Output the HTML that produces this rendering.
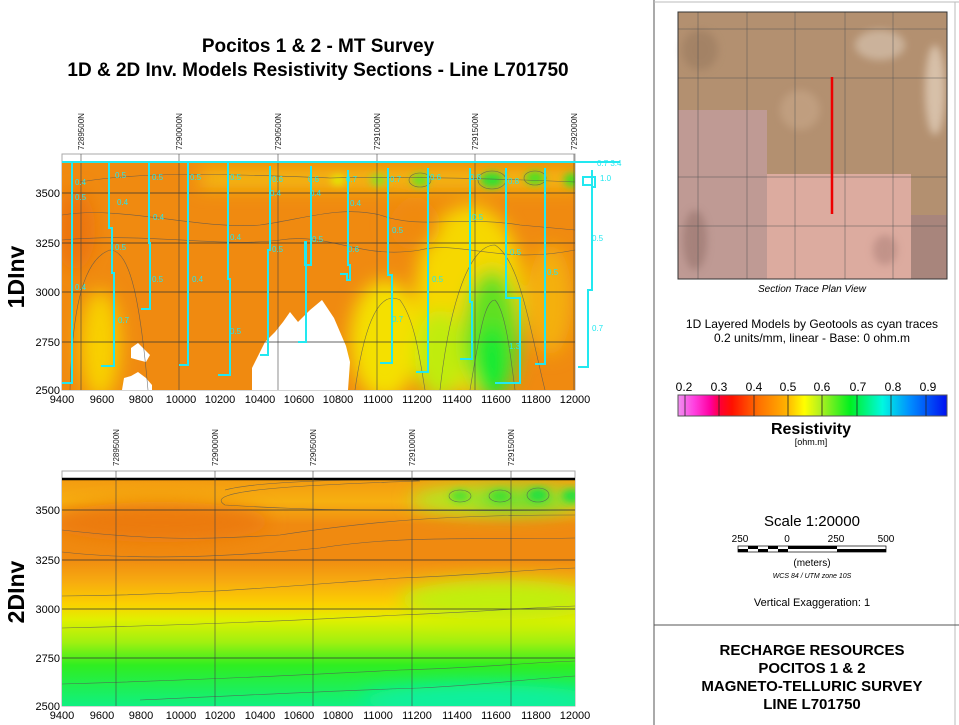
<!DOCTYPE html>
<html><head><meta charset="utf-8"><style>
html,body{margin:0;padding:0;background:#fff;}
body{width:959px;height:725px;overflow:hidden;position:relative;font-family:"Liberation Sans",sans-serif;}
</style></head><body>
<svg width="959" height="725" viewBox="0 0 959 725" xmlns="http://www.w3.org/2000/svg" style="position:absolute;left:0;top:0" font-family="Liberation Sans, sans-serif">
<defs>
<filter id="bl" x="-30%" y="-30%" width="160%" height="160%"><feGaussianBlur stdDeviation="9"/></filter>
<filter id="bl2" x="-30%" y="-30%" width="160%" height="160%"><feGaussianBlur stdDeviation="4"/></filter>
<clipPath id="c1"><rect x="62" y="163" width="513" height="227"/></clipPath>
<clipPath id="c2"><rect x="62" y="479" width="513" height="227"/></clipPath>
<linearGradient id="g2" x1="0" y1="0" x2="0" y2="1">
<stop offset="0" stop-color="#f39a10"/><stop offset="0.1" stop-color="#f7b010"/>
<stop offset="0.2" stop-color="#f08a10"/><stop offset="0.35" stop-color="#f08a10"/>
<stop offset="0.45" stop-color="#f7aa10"/><stop offset="0.55" stop-color="#fbd000"/>
<stop offset="0.62" stop-color="#e0f000"/><stop offset="0.72" stop-color="#a0f010"/>
<stop offset="0.82" stop-color="#30ee20"/><stop offset="1" stop-color="#10f080"/>
</linearGradient>
<linearGradient id="cb" x1="0" y1="0" x2="1" y2="0">
<stop offset="0" stop-color="#f090f0"/><stop offset="0.06" stop-color="#ff40e0"/>
<stop offset="0.12" stop-color="#ff00a0"/><stop offset="0.16" stop-color="#ff0030"/>
<stop offset="0.2" stop-color="#ff1000"/><stop offset="0.3" stop-color="#ff7000"/>
<stop offset="0.4" stop-color="#ffb000"/><stop offset="0.47" stop-color="#ffff00"/>
<stop offset="0.53" stop-color="#b0f020"/><stop offset="0.64" stop-color="#00f020"/>
<stop offset="0.76" stop-color="#00f8e0"/><stop offset="0.86" stop-color="#0090ff"/>
<stop offset="1" stop-color="#0010f0"/>
</linearGradient>
</defs>

<text x="318" y="52" text-anchor="middle" font-size="19" font-weight="bold">Pocitos 1 &amp; 2 - MT Survey</text>
<text x="318" y="76" text-anchor="middle" font-size="19" font-weight="bold">1D &amp; 2D Inv. Models Resistivity Sections - Line L701750</text>

<rect x="62" y="154" width="513" height="236" fill="#fff" stroke="#aaa"/>
<g clip-path="url(#c1)">
<rect x="62" y="163" width="513" height="227" fill="#f08a10"/>
<g filter="url(#bl)">
<ellipse cx="100" cy="345" rx="20" ry="55" fill="#f8d000"/>
<ellipse cx="385" cy="340" rx="35" ry="60" fill="#f4e000"/>
<ellipse cx="470" cy="300" rx="55" ry="95" fill="#f6d800"/>
<ellipse cx="492" cy="335" rx="28" ry="65" fill="#60e020"/>
<ellipse cx="492" cy="362" rx="16" ry="38" fill="#10ea30"/>
<ellipse cx="440" cy="355" rx="25" ry="45" fill="#c0ec10"/>
<ellipse cx="550" cy="300" rx="22" ry="55" fill="#f4b010"/>
<rect x="200" y="170" width="380" height="18" fill="#f4c010"/>
<ellipse cx="75" cy="230" rx="20" ry="40" fill="#ec7410"/>
<ellipse cx="415" cy="225" rx="25" ry="25" fill="#f08a10"/>
</g>
<g filter="url(#bl2)">
<ellipse cx="378" cy="180" rx="8" ry="6" fill="#90e020"/>
<ellipse cx="420" cy="180" rx="9" ry="7" fill="#70e020"/>
<ellipse cx="492" cy="180" rx="12" ry="8" fill="#30e030"/>
<ellipse cx="535" cy="178" rx="10" ry="7" fill="#50e020"/>
<ellipse cx="572" cy="180" rx="8" ry="7" fill="#40e020"/>
<ellipse cx="338" cy="180" rx="7" ry="5" fill="#e0f000"/>
</g>
<polygon fill="#fff" points="252,390 252,368 258,356 265,342 275,332 283,322 290,312 298,322 310,310 322,300 334,318 340,332 346,346 350,362 348,390"/>
<polygon fill="#fff" points="131,348 138,343 145,350 150,355 146,362 138,360 131,358"/>
<polygon fill="#fff" points="122,390 124,378 131,376 138,372 146,378 152,385 152,390"/>
<g stroke="#555" stroke-width="0.6" fill="none" opacity="0.8">
<path d="M70,390 C72,320 80,260 110,250 C130,250 140,300 148,390"/>
<path d="M355,390 C365,320 380,290 400,300 C415,320 420,360 425,390"/>
<path d="M440,390 C450,300 470,245 495,245 C520,260 530,330 545,390"/>
<path d="M470,390 C480,330 485,300 495,300 C505,310 510,350 515,390"/>
<path d="M62,215 C120,205 200,230 260,225 C300,220 340,205 380,215 C420,230 460,215 520,225 L575,230"/>
<path d="M62,240 C150,232 220,248 280,240 C330,232 360,260 420,250 C460,240 500,265 575,250"/>
<path d="M80,182 C150,170 250,175 330,178 C400,176 480,178 575,182"/>
<ellipse cx="492" cy="180" rx="14" ry="9"/><ellipse cx="420" cy="180" rx="11" ry="7"/><ellipse cx="535" cy="178" rx="11" ry="7"/>
</g>
</g>
<g stroke="#333" stroke-width="0.8">
<line x1="62" y1="193" x2="575" y2="193"/><line x1="62" y1="243" x2="575" y2="243"/>
<line x1="62" y1="292" x2="575" y2="292"/><line x1="62" y1="342" x2="575" y2="342"/>
</g>
<g stroke="#444" stroke-width="0.6">
<line x1="81" y1="154" x2="81" y2="390"/><line x1="179" y1="154" x2="179" y2="390"/>
<line x1="278" y1="154" x2="278" y2="390"/><line x1="377" y1="154" x2="377" y2="390"/>
<line x1="475" y1="154" x2="475" y2="390"/><line x1="574" y1="154" x2="574" y2="390"/>
</g>
<line x1="62" y1="162" x2="575" y2="162" stroke="#000" stroke-width="2" stroke-dasharray="14,5"/>
<line x1="62" y1="162" x2="620" y2="162" stroke="#22e8f0" stroke-width="2"/>
<g stroke="#22e8f0" stroke-width="2" fill="none">
<path d="M72,162 V383 H62"/>
<path d="M109,162 V228 H112 V273 H114 V366 H101"/>
<path d="M149,162 V243 H150 V309 H141"/>
<path d="M188,162 V365 H179"/>
<path d="M228,162 V279 H230 V375 H218"/>
<path d="M270,166 V250 H268 V355 H260"/>
<path d="M311,166 V265 H305 V242 H306 V342 H298"/>
<path d="M348,170 V265 H350 V280 H347 V274 H340"/>
<path d="M388,168 V275 H392 V363 H380"/>
<path d="M428,168 V372 H416"/>
<path d="M470,168 V302 H472 V359 H460"/>
<path d="M506,168 V298 H520 V383 H495"/>
<path d="M545,168 V364 H535"/>
<path d="M592,170 V185 H583 V177 H595 V187 H592 V290 H588 V367 H578"/>
</g>
<g fill="#22e8f0" font-size="8">
<text x="75" y="185">0.4</text><text x="75" y="200">0.5</text><text x="75" y="290">0.4</text>
<text x="115" y="178">0.5</text><text x="117" y="205">0.4</text><text x="115" y="250">0.5</text><text x="118" y="323">0.7</text>
<text x="152" y="180">0.5</text><text x="153" y="220">0.4</text><text x="152" y="282">0.5</text>
<text x="190" y="180">0.5</text><text x="230" y="180">0.5</text><text x="230" y="240">0.4</text><text x="230" y="334">0.5</text>
<text x="192" y="282">0.4</text><text x="272" y="182">0.6</text><text x="272" y="252">0.5</text>
<text x="308" y="182">0.6</text><text x="312" y="242">0.5</text><text x="346" y="182">0.7</text><text x="348" y="252">0.6</text>
<text x="390" y="182">0.7</text><text x="392" y="233">0.5</text><text x="392" y="322">0.7</text>
<text x="430" y="180">0.6</text><text x="432" y="282">0.5</text><text x="470" y="180">0.8</text><text x="472" y="220">0.5</text>
<text x="508" y="184">0.8</text><text x="510" y="255">0.5</text><text x="547" y="275">0.5</text><text x="509" y="349">1.3</text>
<text x="600" y="181">1.0</text><text x="592" y="241">0.5</text><text x="592" y="331">0.7</text><text x="597" y="166">0.7 3.4</text>
<text x="350" y="206">0.4</text><text x="270" y="196">0.4</text><text x="310" y="196">0.4</text>
</g>
<g font-size="11" text-anchor="end">
<text x="60" y="197">3500</text><text x="60" y="247">3250</text><text x="60" y="296">3000</text>
<text x="60" y="346">2750</text><text x="60" y="394">2500</text>
</g>
<g font-size="11" text-anchor="middle">
<text x="62" y="403">9400</text><text x="102" y="403">9600</text><text x="141" y="403">9800</text>
<text x="181" y="403">10000</text><text x="220" y="403">10200</text><text x="260" y="403">10400</text>
<text x="299" y="403">10600</text><text x="338" y="403">10800</text><text x="378" y="403">11000</text>
<text x="417" y="403">11200</text><text x="457" y="403">11400</text><text x="496" y="403">11600</text>
<text x="536" y="403">11800</text><text x="575" y="403">12000</text>
</g>
<g font-size="8" fill="#222">
<text transform="translate(84,150) rotate(-90)">7289500N</text>
<text transform="translate(182,150) rotate(-90)">7290000N</text>
<text transform="translate(281,150) rotate(-90)">7290500N</text>
<text transform="translate(380,150) rotate(-90)">7291000N</text>
<text transform="translate(478,150) rotate(-90)">7291500N</text>
<text transform="translate(577,150) rotate(-90)">7292000N</text>
</g>
<text transform="translate(24,277) rotate(-90)" text-anchor="middle" font-size="23" font-weight="bold">1DInv</text>

<rect x="62" y="471" width="513" height="235" fill="#fff" stroke="#aaa"/>
<g clip-path="url(#c2)">
<rect x="62" y="479" width="513" height="227" fill="url(#g2)"/>
<g filter="url(#bl)">
<ellipse cx="160" cy="522" rx="110" ry="20" fill="#ec7a10"/>
<ellipse cx="500" cy="500" rx="90" ry="15" fill="#b0e820"/>
<ellipse cx="520" cy="500" rx="50" ry="10" fill="#60e030"/>
<ellipse cx="480" cy="700" rx="120" ry="15" fill="#10f0a0"/>
<ellipse cx="500" cy="600" rx="100" ry="20" fill="#c0f010"/>
</g>
<g filter="url(#bl2)">
<ellipse cx="460" cy="496" rx="10" ry="6" fill="#50e030"/><ellipse cx="500" cy="496" rx="10" ry="6" fill="#40e030"/>
<ellipse cx="538" cy="495" rx="10" ry="7" fill="#20e040"/><ellipse cx="572" cy="496" rx="10" ry="7" fill="#20e040"/>
</g>
<g stroke="#555" stroke-width="0.6" fill="none" opacity="0.8">
<path d="M62,530 C150,540 200,540 280,535 C380,520 450,515 575,515"/>
<path d="M62,552 C150,562 250,555 320,548 C400,535 480,540 575,538"/>
<path d="M62,596 C200,595 300,585 400,578 C480,575 520,570 575,568"/>
<path d="M62,628 C200,625 300,620 400,615 C480,612 520,608 575,606"/>
<path d="M62,684 C200,680 300,675 400,670 C480,668 520,663 575,661"/>
<path d="M140,700 C250,695 350,690 420,688 C480,685 520,680 575,676"/>
<path d="M225,490 C260,480 400,478 420,481 C300,485 200,490 225,505 C300,510 400,512 575,510"/>
<ellipse cx="460" cy="496" rx="11" ry="6"/><ellipse cx="500" cy="496" rx="11" ry="6"/><ellipse cx="538" cy="495" rx="11" ry="7"/>
</g>
</g>
<line x1="62" y1="479" x2="575" y2="479" stroke="#000" stroke-width="2.5"/>
<g stroke="#333" stroke-width="0.8">
<line x1="62" y1="510" x2="575" y2="510"/><line x1="62" y1="560" x2="575" y2="560"/>
<line x1="62" y1="609" x2="575" y2="609"/><line x1="62" y1="658" x2="575" y2="658"/>
</g>
<g stroke="#444" stroke-width="0.6">
<line x1="116" y1="471" x2="116" y2="706"/><line x1="215" y1="471" x2="215" y2="706"/>
<line x1="313" y1="471" x2="313" y2="706"/><line x1="412" y1="471" x2="412" y2="706"/>
<line x1="511" y1="471" x2="511" y2="706"/>
</g>
<g font-size="11" text-anchor="end">
<text x="60" y="514">3500</text><text x="60" y="564">3250</text><text x="60" y="613">3000</text>
<text x="60" y="662">2750</text><text x="60" y="710">2500</text>
</g>
<g font-size="11" text-anchor="middle">
<text x="62" y="719">9400</text><text x="102" y="719">9600</text><text x="141" y="719">9800</text>
<text x="181" y="719">10000</text><text x="220" y="719">10200</text><text x="260" y="719">10400</text>
<text x="299" y="719">10600</text><text x="338" y="719">10800</text><text x="378" y="719">11000</text>
<text x="417" y="719">11200</text><text x="457" y="719">11400</text><text x="496" y="719">11600</text>
<text x="536" y="719">11800</text><text x="575" y="719">12000</text>
</g>
<g font-size="8" fill="#222">
<text transform="translate(119,466) rotate(-90)">7289500N</text>
<text transform="translate(218,466) rotate(-90)">7290000N</text>
<text transform="translate(316,466) rotate(-90)">7290500N</text>
<text transform="translate(415,466) rotate(-90)">7291000N</text>
<text transform="translate(514,466) rotate(-90)">7291500N</text>
</g>
<text transform="translate(24,592) rotate(-90)" text-anchor="middle" font-size="23" font-weight="bold">2DInv</text>

<line x1="654" y1="0" x2="654" y2="725" stroke="#555" stroke-width="1"/>
<line x1="654" y1="2" x2="959" y2="2" stroke="#bbb"/>
<line x1="955" y1="2" x2="955" y2="725" stroke="#bbb"/>
<line x1="654" y1="625" x2="959" y2="625" stroke="#555"/>
<rect x="678" y="12" width="269" height="267" fill="#b39070"/>
<g filter="url(#bl2)" opacity="0.6">
<ellipse cx="880" cy="45" rx="25" ry="15" fill="#dccab8"/>
<ellipse cx="935" cy="90" rx="10" ry="45" fill="#efe0cf"/>
<ellipse cx="800" cy="110" rx="20" ry="20" fill="#c9a88a"/>
<ellipse cx="700" cy="50" rx="18" ry="20" fill="#9a7a5e"/>
</g>
<rect x="678" y="110" width="89" height="169" fill="#bf9a94"/>
<rect x="767" y="174" width="144" height="105" fill="#dcab9f"/>
<rect x="911" y="215" width="36" height="64" fill="#a8857c"/>
<g filter="url(#bl2)" opacity="0.5">
<ellipse cx="695" cy="240" rx="12" ry="30" fill="#8e6a64"/>
<ellipse cx="885" cy="250" rx="12" ry="15" fill="#a87c74"/>
</g>
<g stroke="#555" stroke-width="0.5">
<line x1="698" y1="12" x2="698" y2="279"/><line x1="747" y1="12" x2="747" y2="279"/>
<line x1="795" y1="12" x2="795" y2="279"/><line x1="845" y1="12" x2="845" y2="279"/>
<line x1="893" y1="12" x2="893" y2="279"/>
<line x1="678" y1="29" x2="947" y2="29"/><line x1="678" y1="78" x2="947" y2="78"/>
<line x1="678" y1="177" x2="947" y2="177"/><line x1="678" y1="226" x2="947" y2="226"/>
</g>
<rect x="678" y="12" width="269" height="267" fill="none" stroke="#333"/>
<line x1="832" y1="77" x2="832" y2="214" stroke="#ee0000" stroke-width="2.5"/>
<text x="812" y="292" text-anchor="middle" font-size="10" font-style="italic">Section Trace Plan View</text>
<text x="812" y="328" text-anchor="middle" font-size="12">1D Layered Models by Geotools as cyan traces</text>
<text x="812" y="342" text-anchor="middle" font-size="12">0.2 units/mm, linear - Base: 0 ohm.m</text>
<rect x="678" y="395" width="269" height="21" fill="url(#cb)" stroke="#555"/>
<g stroke="#222" stroke-width="0.8">
<line x1="685" y1="395" x2="685" y2="416"/><line x1="719" y1="395" x2="719" y2="416"/>
<line x1="754" y1="395" x2="754" y2="416"/><line x1="788" y1="395" x2="788" y2="416"/>
<line x1="822" y1="395" x2="822" y2="416"/><line x1="857" y1="395" x2="857" y2="416"/>
<line x1="891" y1="395" x2="891" y2="416"/><line x1="926" y1="395" x2="926" y2="416"/>
</g>
<g font-size="12" text-anchor="middle">
<text x="684" y="391">0.2</text><text x="719" y="391">0.3</text><text x="754" y="391">0.4</text>
<text x="788" y="391">0.5</text><text x="822" y="391">0.6</text><text x="858" y="391">0.7</text>
<text x="893" y="391">0.8</text><text x="928" y="391">0.9</text>
</g>
<text x="811" y="434" text-anchor="middle" font-size="16" font-weight="bold">Resistivity</text>
<text x="811" y="445" text-anchor="middle" font-size="9">[ohm.m]</text>
<text x="812" y="526" text-anchor="middle" font-size="15">Scale 1:20000</text>
<g font-size="10" text-anchor="middle">
<text x="740" y="542">250</text><text x="787" y="542">0</text><text x="836" y="542">250</text><text x="886" y="542">500</text>
</g>
<rect x="738" y="546" width="148" height="6" fill="#fff" stroke="#000" stroke-width="0.7"/>
<g fill="#000">
<rect x="738" y="549" width="10" height="3"/><rect x="748" y="546" width="10" height="3"/>
<rect x="758" y="549" width="10" height="3"/><rect x="768" y="546" width="10" height="3"/>
<rect x="778" y="549" width="10" height="3"/><rect x="788" y="546" width="49" height="3"/>
<rect x="837" y="549" width="49" height="3"/>
</g>
<text x="812" y="566" text-anchor="middle" font-size="10">(meters)</text>
<text x="812" y="578" text-anchor="middle" font-size="7" font-style="italic">WCS 84 / UTM zone 10S</text>
<text x="812" y="606" text-anchor="middle" font-size="11">Vertical Exaggeration: 1</text>
<g font-size="15" font-weight="bold" text-anchor="middle">
<text x="812" y="655">RECHARGE RESOURCES</text>
<text x="812" y="673">POCITOS 1 &amp; 2</text>
<text x="812" y="691">MAGNETO-TELLURIC SURVEY</text>
<text x="812" y="709">LINE L701750</text>
</g>
</svg>
</body></html>
